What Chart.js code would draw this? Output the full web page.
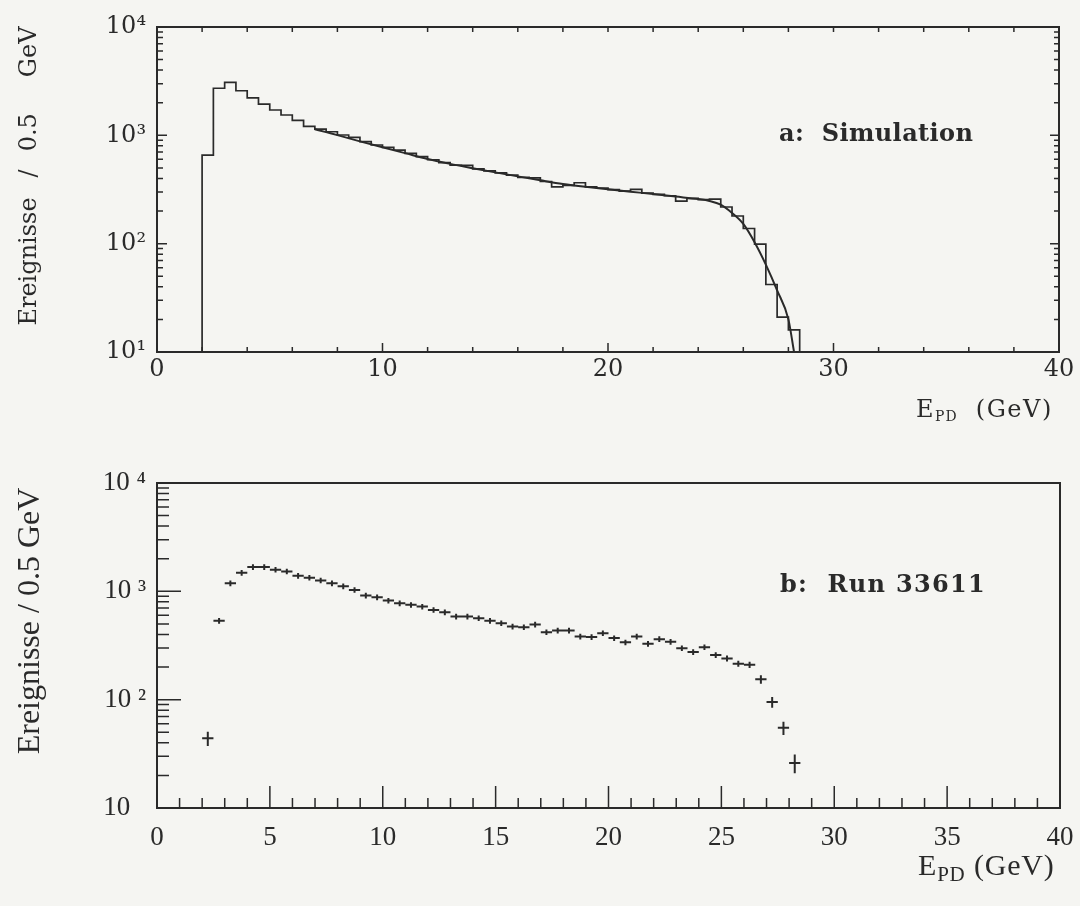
<!DOCTYPE html>
<html><head><meta charset="utf-8">
<script src="https://cdn.jsdelivr.net/npm/chart.js@4/dist/chart.umd.min.js"></script>
<style>
html,body{margin:0;padding:0;background:#f5f5f2;}
body{width:1080px;height:906px;position:relative;overflow:hidden;}
canvas{position:absolute;left:0;}
#c1{top:0;}
#c2{top:440px;}
.lbl{position:absolute;color:#2a2a2a;white-space:pre;line-height:1;}
.rot{transform:translate(-50%,-50%) rotate(-90deg);}
.t1{font-family:"DejaVu Serif";}
.t2{font-family:"Liberation Serif";}
sub{vertical-align:-0.3em;}
</style></head><body>
<canvas id="c1" width="1080" height="440" style="width:1080px;height:440px"></canvas>
<canvas id="c2" width="1080" height="466" style="width:1080px;height:466px"></canvas>

<div class="lbl rot t1" style="left:28px;top:176px;font-size:24px;"><span>Ereignisse</span><span style="margin:0 18px 0 20px">/</span><span>0.5</span><span style="margin-left:36px">GeV</span></div>
<div class="lbl t1" style="left:916px;top:397px;font-size:24px;letter-spacing:1.5px;">E<sub style="font-size:58%;letter-spacing:1px">PD</sub>  (GeV)</div>
<div class="lbl t1" style="left:779px;top:121px;font-size:24px;font-weight:bold;letter-spacing:0.4px;">a:  Simulation</div>

<div class="lbl rot t2" style="left:28px;top:621px;font-size:32px;">Ereignisse / 0.5 GeV</div>
<div class="lbl t2" style="left:918px;top:850px;font-size:30px;letter-spacing:0.8px;">E<sub style="font-size:70%">PD</sub> (GeV)</div>
<div class="lbl t1" style="left:780px;top:572px;font-size:24px;font-weight:bold;letter-spacing:1.3px;">b:  Run 33611</div>

<script>
// ---------------- data: panel a (simulation histogram, 0.5 GeV bins) ----------------
const simEdges = [2.0,2.5,3.0,3.5,4.0,4.5,5.0,5.5,6.0,6.5,7.0,7.5,8.0,8.5,9.0,9.5,10.0,10.5,11.0,11.5,
  12.0,12.5,13.0,13.5,14.0,14.5,15.0,15.5,16.0,16.5,17.0,17.5,18.0,18.5,19.0,19.5,20.0,20.5,21.0,21.5,
  22.0,22.5,23.0,23.5,24.0,24.5,25.0,25.5,26.0,26.5,27.0,27.5,28.0,28.5];
const simCounts = [658,2720,3080,2580,2220,1945,1714,1540,1376,1211,1143,1079,1007,959,874,814,775,731,682,635,
  595,560,530,528,490,470,450,430,410,405,375,335,345,365,335,325,315,305,317,293,
  285,277,247,262,255,258,218,180,138,99,42,21,16];
// fitted curve
const fitE = [7,7.5,8,9,10,11,12,13,14,15,16,17,18,19,20,21,22,23,24,24.5,25,25.5,26,26.5,27,27.5,28,28.25];
const fitY = [1140,1070,1005,880,775,685,605,545,497,455,418,385,356,335,318,302,287,272,258,248,229,192,152,103,64,37,20,10];

// ---------------- data: panel b (Run 33611, bin centres) ----------------
const runE = [2.25,2.75,3.25,3.75,4.25,4.75,5.25,5.75,6.25,6.75,7.25,7.75,8.25,8.75,9.25,9.75,10.25,10.75,11.25,11.75,
  12.25,12.75,13.25,13.75,14.25,14.75,15.25,15.75,16.25,16.75,17.25,17.75,18.25,18.75,19.25,19.75,20.25,20.75,21.25,21.75,
  22.25,22.75,23.25,23.75,24.25,24.75,25.25,25.75,26.25,26.75,27.25,27.75,28.25];
const runCounts = [44,534,1186,1486,1675,1675,1585,1528,1394,1336,1262,1186,1112,1031,913,881,821,776,750,723,
  674,641,585,585,565,534,508,473,467,494,420,435,435,383,378,411,370,338,383,328,
  362,342,299,275,305,258,240,215,210,154,95,55,26];
const runErr = [6.6,33,72,90,100,100,95,92,84,80,76,72,67,62,55,53,49,47,45,43,
  40,38,35,35,34,32,30,28,28,30,25,26,26,23,23,25,22,20,23,20,
  22,21,18,17,18,16,15,14,14,14,11,7.7,5.1];
const runHalfBin = [0.25];

// ---------------- axes / ticks ----------------
const xTicksTop = [0,2,4,6,8,10,12,14,16,18,20,22,24,26,28,30,32,34,36,38,40];
const xLabelsTop = [0,10,20,30,40];
const xTicksBot = [0,1,2,3,4,5,6,7,8,9,10,11,12,13,14,15,16,17,18,19,20,21,22,23,24,25,26,27,28,29,30,31,32,33,34,35,36,37,38,39,40];
const xLabelsBot = [0,5,10,15,20,25,30,35,40];
const yTicks = [10,20,30,40,50,60,70,80,90,100,200,300,400,500,600,700,800,900,1000,2000,3000,4000,5000,6000,7000,8000,9000,10000];
const yDecades = [10,100,1000,10000];
const yLabelsTop = ['10¹','10²','10³','10⁴'];
const yLabelsBot = ['10\u2002\u200A','10 ²','10 ³','10 ⁴'];

const INK = '#2a2a2a';

const frameTicks = {
  id: 'frameTicks',
  afterDatasetsDraw(chart, args, o) {
    const {ctx, chartArea: a, scales: {x, y}} = chart;
    ctx.save();
    ctx.strokeStyle = INK;
    ctx.lineWidth = o.frameWidth;
    ctx.strokeRect(a.left, a.top, a.right - a.left, a.bottom - a.top);
    ctx.lineWidth = o.tickWidth;
    ctx.beginPath();
    y.ticks.forEach(t => {
      const py = y.getPixelForValue(t.value);
      const major = yDecades.includes(t.value);
      const L = major ? o.yMajor : o.yMinor;
      ctx.moveTo(a.left, py); ctx.lineTo(a.left + L, py);
      if (o.right) {
        const R = major ? o.rMajor : o.rMinor;
        ctx.moveTo(a.right, py); ctx.lineTo(a.right - R, py);
      }
    });
    x.ticks.forEach(t => {
      const px = x.getPixelForValue(t.value);
      const major = o.xMajorList.includes(t.value);
      const L = major ? o.xMajor : o.xMinor;
      ctx.moveTo(px, a.bottom); ctx.lineTo(px, a.bottom - L);
      if (o.top) { ctx.moveTo(px, a.top); ctx.lineTo(px, a.top + o.topLen); }
    });
    ctx.stroke();
    ctx.restore();
  }
};

function baseScales(opts) {
  return {
    x: {
      type: 'linear', position: 'bottom', min: 0, max: 40,
      grid: {display: false, drawTicks: false}, border: {display: false},
      afterBuildTicks: s => { s.ticks = opts.xTicks.map(v => ({value: v})); },
      afterFit: s => { s.height = opts.xHeight; s.paddingLeft = 0; s.paddingRight = 0; },
      ticks: {
        autoSkip: false, maxRotation: 0, color: INK, padding: opts.xPad,
        font: {family: opts.font, size: opts.tickSize},
        callback: v => opts.xLabels.includes(v) ? String(v) : ''
      }
    },
    y: {
      type: 'logarithmic', position: 'left', min: 10, max: 10000,
      grid: {display: false, drawTicks: false}, border: {display: false},
      afterBuildTicks: s => { s.ticks = yTicks.map(v => ({value: v})); },
      afterFit: s => { s.width = 157; s.paddingTop = 0; s.paddingBottom = 0; },
      ticks: {
        autoSkip: false, color: INK, padding: opts.yPad,
        font: {family: opts.font, size: opts.tickSize},
        callback: v => { const i = yDecades.indexOf(v); return i >= 0 ? opts.yLabels[i] : ''; }
      }
    }
  };
}

// ---------------- panel a ----------------
function histogramPoints(edges, counts, floor) {
  const pts = [{x: edges[0], y: floor}];
  counts.forEach((c, i) => { pts.push({x: edges[i], y: c}); pts.push({x: edges[i + 1], y: c}); });
  pts.push({x: edges[edges.length - 1], y: floor});
  return pts;
}

new Chart(document.getElementById('c1'), {
  type: 'scatter',
  data: {datasets: [
    {data: histogramPoints(simEdges, simCounts, 10), showLine: true, borderColor: INK, borderWidth: 1.7, pointRadius: 0},
    {data: fitE.map((e, i) => ({x: e, y: fitY[i]})), showLine: true, cubicInterpolationMode: 'monotone',
      borderColor: INK, borderWidth: 2, pointRadius: 0}
  ]},
  options: {
    responsive: false, animation: false, devicePixelRatio: 1,
    layout: {padding: {top: 27, right: 21, left: 0, bottom: 0}},
    plugins: {legend: {display: false}, tooltip: {enabled: false},
      frameTicks: {frameWidth: 2, tickWidth: 1.5, yMajor: 10, yMinor: 6, right: true, rMajor: 9, rMinor: 5,
        xMajor: 9, xMinor: 5, xMajorList: xLabelsTop, top: true, topLen: 5}},
    scales: baseScales({xTicks: xTicksTop, xLabels: xLabelsTop, yLabels: yLabelsTop, font: 'DejaVu Serif',
      tickSize: 24, xPad: 3, yPad: 11, xHeight: 88})
  },
  plugins: [frameTicks]
});

// ---------------- panel b ----------------
const hBars = [], vBars = [];
runE.forEach((e, i) => {
  const c = runCounts[i], err = runErr[i], hw = runHalfBin[0];
  hBars.push({x: e - hw, y: c}, {x: e + hw, y: c}, {x: e, y: null});
  vBars.push({x: e, y: c - err}, {x: e, y: c + err}, {x: e, y: null});
});

new Chart(document.getElementById('c2'), {
  type: 'scatter',
  data: {datasets: [
    {data: hBars, showLine: true, spanGaps: false, borderColor: INK, borderWidth: 2, pointRadius: 0},
    {data: vBars, showLine: true, spanGaps: false, borderColor: INK, borderWidth: 2, pointRadius: 0}
  ]},
  options: {
    responsive: false, animation: false, devicePixelRatio: 1,
    layout: {padding: {top: 43, right: 20, left: 0, bottom: 0}},
    plugins: {legend: {display: false}, tooltip: {enabled: false},
      frameTicks: {frameWidth: 2, tickWidth: 1.5, yMajor: 24, yMinor: 12, right: false,
        xMajor: 22, xMinor: 10, xMajorList: xLabelsBot, top: false}},
    scales: baseScales({xTicks: xTicksBot, xLabels: xLabelsBot, yLabels: yLabelsBot, font: 'Liberation Serif',
      tickSize: 27, xPad: 14, yPad: 11, xHeight: 98})
  },
  plugins: [frameTicks]
});
</script>
</body></html>
